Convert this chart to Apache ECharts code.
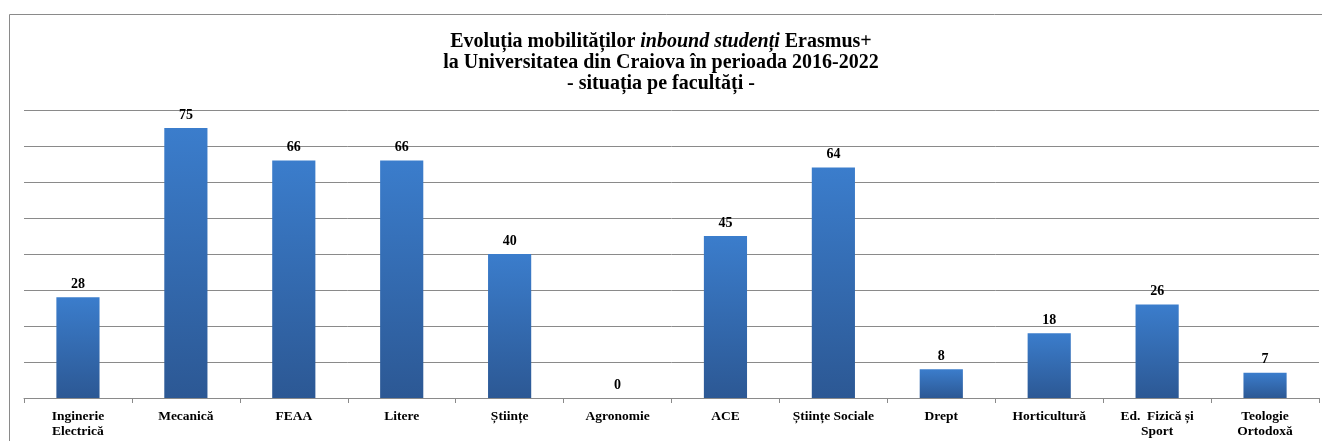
<!DOCTYPE html>
<html>
<head>
<meta charset="utf-8">
<script src="https://cdn.jsdelivr.net/npm/echarts@6/dist/echarts.min.js"></script>
<style>
  html, body { margin: 0; padding: 0; background: #fff; }
  #chart { width: 1322px; height: 441px; }
</style>
</head>
<body>
<div id="chart"></div>
<script>
// faculties and inbound student mobilities 2016-2022
const faculties = [
  'Inginerie\nElectrică', 'Mecanică', 'FEAA', 'Litere', 'Științe', 'Agronomie',
  'ACE', 'Științe Sociale', 'Drept', 'Horticultură', 'Ed.  Fizică și\nSport', 'Teologie\nOrtodoxă'
]
const mobilities = [28, 75, 66, 66, 40, 0, 45, 64, 8, 18, 26, 7]

const serif = '"Liberation Serif", "Times New Roman", serif'

const chart = echarts.init(document.getElementById('chart'), null, { renderer: 'canvas' })

chart.setOption({
  animation: false,
  backgroundColor: '#fff',
  graphic: [{
    type: 'rect',
    shape: { x: 9.5, y: 14.5, width: 1400, height: 500 },
    style: { fill: 'none', stroke: '#8a8a8a', lineWidth: 1 },
    silent: true
  }],
  title: {
    left: 'center',
    top: 26,
    text: '{b|Evoluția mobilităților }{i|inbound studenți}{b| Erasmus+}\n{b|la Universitatea din Craiova în perioada 2016-2022}\n{b|- situația pe facultăți -}',
    textStyle: {
      lineHeight: 21,
      rich: {
        b: { fontFamily: serif, fontWeight: 'bold', fontSize: 20, color: '#000', lineHeight: 21 },
        i: { fontFamily: serif, fontWeight: 'bold', fontStyle: 'italic', fontSize: 20, color: '#000', lineHeight: 21 }
      }
    }
  },
  grid: { left: 24, right: 3, top: 110, bottom: 43, containLabel: false },
  xAxis: {
    type: 'category',
    data: faculties,
    axisLine: { lineStyle: { color: '#8a8a8a', width: 1 } },
    axisTick: { show: true, length: 5, alignWithLabel: false, lineStyle: { color: '#8a8a8a' } },
    axisLabel: {
      interval: 0,
      margin: 11,
      fontFamily: serif,
      fontWeight: 'bold',
      fontSize: 13.5,
      lineHeight: 15,
      color: '#000'
    }
  },
  yAxis: {
    type: 'value',
    min: 0,
    max: 80,
    interval: 10,
    axisLabel: { show: false },
    axisLine: { show: false },
    axisTick: { show: false },
    splitLine: { lineStyle: { color: '#8a8a8a', width: 1 } }
  },
  series: [{
    type: 'bar',
    data: mobilities,
    barWidth: '40%',
    itemStyle: {
      color: new echarts.graphic.LinearGradient(0, 0, 0, 1, [
        { offset: 0, color: '#3b7dcc' },
        { offset: 1, color: '#2c5894' }
      ])
    },
    label: {
      show: true,
      position: 'top',
      distance: 6,
      fontFamily: serif,
      fontWeight: 'bold',
      fontSize: 14,
      color: '#000'
    }
  }]
})
</script>
</body>
</html>
